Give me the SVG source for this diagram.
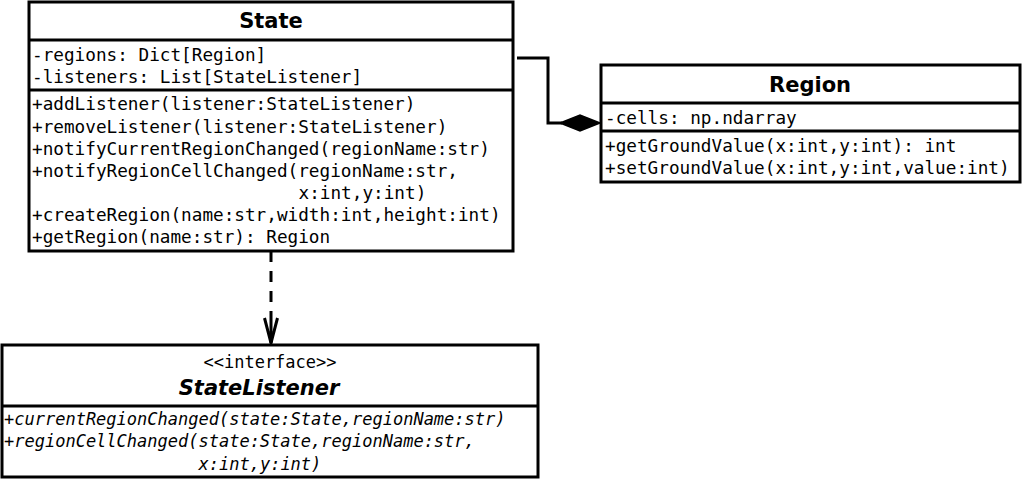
<svg xmlns="http://www.w3.org/2000/svg" width="1024" height="480" viewBox="0 0 1024 480">
<style>
.box{fill:#fff;stroke:#000;stroke-width:3}
.div{stroke:#000;stroke-width:3;fill:none}
.t{font-family:"DejaVu Sans Bold","DejaVu Sans",sans-serif;font-weight:bold;font-size:21px;fill:#000;text-anchor:middle}
.m{font-family:"DejaVu Sans Mono","Liberation Mono",monospace;font-size:17.7px;fill:#000}
.mi{font-family:"DejaVu Sans Mono","Liberation Mono",monospace;font-size:17px;font-style:italic;fill:#000}
.st{font-family:"DejaVu Sans Mono","Liberation Mono",monospace;font-size:17px;fill:#000;text-anchor:middle}
.conn{stroke:#000;stroke-width:3;fill:none}
</style>
<rect width="1024" height="480" fill="#fff"/>
<g id="connectors">
<path class="conn" d="M517,58 H548 V123 H562"/>
<polygon points="600,123 580,115 560,123 580,131" fill="#000" stroke="#000" stroke-width="1.5"/>
<path class="conn" d="M271,251 V342" stroke-dasharray="11 9"/>
<path class="conn" d="M271,322 V343"/>
<path class="conn" d="M264.5,318 L271,343 L277.5,318"/>
</g>
<g id="State">
<rect class="box" x="29" y="2" width="484" height="249"/>
<line class="div" x1="29" y1="40" x2="513" y2="40"/>
<line class="div" x1="29" y1="90" x2="513" y2="90"/>
<text class="t" x="271" y="28">State</text>
<text class="m" x="32" y="61">-regions: Dict[Region]</text>
<text class="m" x="32" y="83">-listeners: List[StateListener]</text>
<text class="m" x="32" y="110">+addListener(listener:StateListener)</text>
<text class="m" x="32" y="132.5">+removeListener(listener:StateListener)</text>
<text class="m" x="32" y="154.5">+notifyCurrentRegionChanged(regionName:str)</text>
<text class="m" x="32" y="176.5">+notifyRegionCellChanged(regionName:str,</text>
<text class="m" x="298.5" y="198.5">x:int,y:int)</text>
<text class="m" x="32" y="221">+createRegion(name:str,width:int,height:int)</text>
<text class="m" x="32" y="243">+getRegion(name:str): Region</text>
</g>
<g id="Region">
<rect class="box" x="601" y="65" width="419" height="117"/>
<line class="div" x1="601" y1="103" x2="1020" y2="103"/>
<line class="div" x1="601" y1="131" x2="1020" y2="131"/>
<text class="t" x="810" y="92">Region</text>
<text class="m" x="605" y="123.5">-cells: np.ndarray</text>
<text class="m" x="605" y="151.5">+getGroundValue(x:int,y:int): int</text>
<text class="m" x="605" y="173.5">+setGroundValue(x:int,y:int,value:int)</text>
</g>
<g id="StateListener">
<rect class="box" x="2" y="345" width="536" height="132"/>
<line class="div" x1="2" y1="406" x2="538" y2="406"/>
<text class="st" x="270" y="368">&lt;&lt;interface&gt;&gt;</text>
<text class="t" x="259" y="395" font-style="italic">StateListener</text>
<text class="mi" x="4" y="425">+currentRegionChanged(state:State,regionName:str)</text>
<text class="mi" x="4" y="447">+regionCellChanged(state:State,regionName:str,</text>
<text class="mi" x="198.5" y="470">x:int,y:int)</text>
</g>
</svg>
